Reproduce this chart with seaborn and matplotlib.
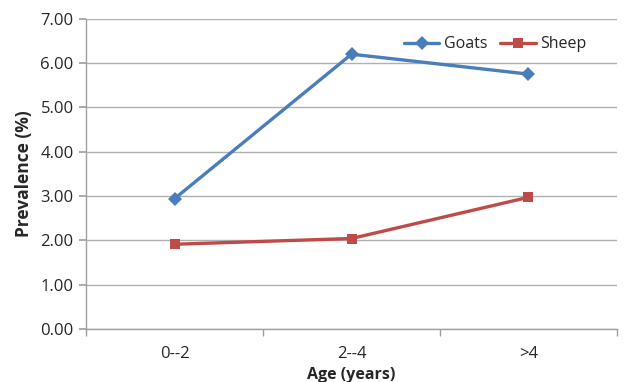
import matplotlib
matplotlib.use("Agg")
import matplotlib.pyplot as plt
import seaborn as sns
import pandas as pd
from matplotlib.ticker import FixedLocator

categories = ["0--2", "2--4", ">4"]
goats = [2.94, 6.20, 5.75]
sheep = [1.91, 2.04, 2.97]
yticks = [0, 1, 2, 3, 4, 5, 6, 7]

df = pd.DataFrame({
    "Age": categories * 2,
    "Prevalence": goats + sheep,
    "Species": ["Goats"] * 3 + ["Sheep"] * 3,
})

sns.set_theme(style="white")
plt.rcParams['font.family'] = ['Open Sans', 'DejaVu Sans']

fig = plt.figure(figsize=(6.38, 3.82), dpi=100)
ax = fig.add_axes([0.135, 0.139, 0.832, 0.812])

palette = {"Goats": "#4A7EBB", "Sheep": "#BE4B48"}
sns.lineplot(data=df, x="Age", y="Prevalence", hue="Species", style="Species",
             markers={"Goats": "D", "Sheep": "s"}, dashes=False, palette=palette,
             linewidth=2.4, markersize=7.5, markeredgewidth=0, ax=ax, sort=False)

ax.set_xlim(-0.5, 2.5)
ax.set_ylim(0, 7)
ax.set_yticks(yticks)
ax.set_yticklabels([f"{v:.2f}" for v in yticks], fontsize=12)
ax.set_xticks(range(len(categories)))
ax.set_xticklabels(categories, fontsize=12)
ax.xaxis.set_minor_locator(FixedLocator([-0.5, 0.5, 1.5, 2.5]))
ax.tick_params(axis="x", which="major", length=0, pad=12)
ax.tick_params(axis="x", which="minor", length=5, color="#A0A0A0", direction="out", bottom=True)
ax.tick_params(axis="y", length=5, color="#A0A0A0", direction="out", left=True, pad=4)

ax.grid(axis="y", color="#B0B0B0", linewidth=1)
ax.set_axisbelow(True)
for s in ["top", "right"]:
    ax.spines[s].set_visible(False)
for s in ["left", "bottom"]:
    ax.spines[s].set_color("#A0A0A0")
    ax.spines[s].set_linewidth(1)

ax.set_xlabel("Age (years)", fontsize=11.5, fontweight="bold", labelpad=4)
ax.set_ylabel("Prevalence (%)", fontsize=12.5, fontweight="bold", labelpad=5)

leg = ax.legend(loc="upper right", bbox_to_anchor=(0.97, 0.99), ncol=2, frameon=False,
                fontsize=11.5, handlelength=2.2, columnspacing=0.8, handletextpad=0.3)

fig.savefig("out.png", dpi=100, facecolor="white")
